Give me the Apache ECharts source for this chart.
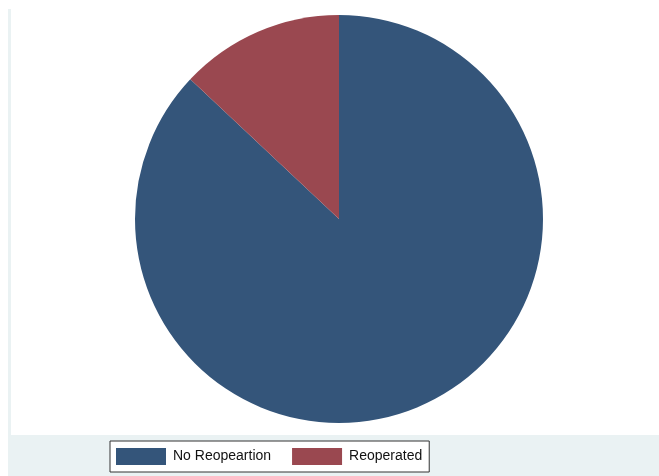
<!DOCTYPE html>
<html>
<head>
<meta charset="utf-8">
<script src="https://cdn.jsdelivr.net/npm/echarts@6/dist/echarts.min.js"></script>
<style>
  html, body { margin: 0; padding: 0; background: #ffffff; }
  #pie { width: 659px; height: 476px; }
</style>
</head>
<body>
<div id="pie"></div>
<script>
// 数据
var categories = ['No Reopeartion', 'Reoperated'];
var counts = [87, 13];
var colors = ['#34557a', '#9a4850'];

document.addEventListener('DOMContentLoaded', function () {
  var myChart = echarts.init(document.getElementById('pie'));

  var option = {
    animation: false,
    backgroundColor: '#ffffff',
    color: colors,
    // 背景区域（外层灰色 + 内层白色绘图区）
    graphic: [
      { type: 'rect', z: -10, shape: { x: 8, y: 9, width: 651, height: 467 }, style: { fill: '#eaf2f3' } },
      { type: 'rect', z: -9, shape: { x: 11, y: 9, width: 648, height: 426 }, style: { fill: '#ffffff' } }
    ],
    legend: {
      left: 110,
      top: 441,
      orient: 'horizontal',
      icon: 'rect',
      itemWidth: 50,
      itemHeight: 17,
      itemGap: 21,
      padding: [7, 7, 7, 6],
      backgroundColor: '#ffffff',
      borderColor: '#333333',
      borderWidth: 1,
      borderRadius: 0,
      selectedMode: false,
      textStyle: {
        color: '#111111',
        fontFamily: '"Liberation Sans", Arial, sans-serif',
        fontSize: 14,
        padding: [0, 0, 0, 2]
      },
      data: categories
    },
    series: [
      {
        type: 'pie',
        radius: 204,
        center: [339, 219],
        startAngle: 90,
        clockwise: true,
        label: { show: false },
        labelLine: { show: false },
        emphasis: { disabled: true },
        itemStyle: { borderWidth: 0 },
        data: categories.map(function (name, i) {
          return { name: name, value: counts[i] };
        })
      }
    ]
  };

  myChart.setOption(option);

  window.addEventListener('resize', function () {
    myChart.resize();
  });
});
</script>
</body>
</html>
